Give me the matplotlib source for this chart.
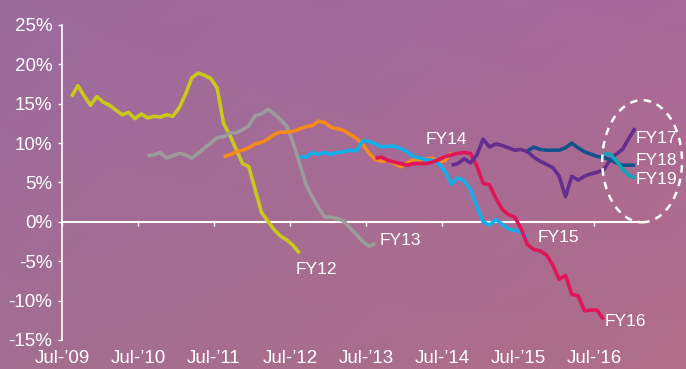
import numpy as np
import matplotlib
matplotlib.use("Agg")
import matplotlib.pyplot as plt
from matplotlib.patches import Ellipse

plt.rcParams['font.family'] = ['DejaVu Sans Condensed', 'Liberation Sans', 'DejaVu Sans']
plt.rcParams['font.stretch'] = 'condensed'

# monthly forecast growth (%) for each fiscal year, mid-month points
fy12 = [15.9, 17.3, 16.0, 14.8, 15.9, 15.2, 14.8, 14.2, 13.6, 13.9, 13.1, 13.7, 13.2,
        13.4, 13.3, 13.6, 13.4, 14.5, 16.2, 18.3, 18.9, 18.6, 18.2, 17.0, 12.5, 11.0,
        9.2, 7.4, 7.0, 4.1, 1.2, 0.1, -1.0, -1.8, -2.3, -3.0, -4.0]
fy13 = [8.4, 8.5, 8.8, 8.1, 8.4, 8.7, 8.5, 8.1, 8.7, 9.4, 10.0, 10.7, 10.8, 11.3,
        11.3, 11.7, 12.2, 13.5, 13.7, 14.3, 13.7, 13.0, 12.1, 10.0, 7.5, 4.8, 3.2,
        1.8, 0.6, 0.6, 0.4, 0.1, -0.8, -1.6, -2.5, -3.1, -2.7]
fy14 = [8.3, 8.5, 8.9, 9.1, 9.4, 9.9, 10.1, 10.5, 11.1, 11.4, 11.4, 11.5, 11.8,
        12.1, 12.2, 12.8, 12.6, 12.0, 11.8, 11.6, 11.1, 10.6, 9.8, 8.7, 7.9, 7.7,
        7.8, 7.4, 7.0, 7.5, 7.9, 7.9, 8.0, 8.1, 7.6, 7.8, 8.8]
fy15 = [8.3, 8.2, 8.8, 8.6, 8.8, 8.6, 8.8, 8.9, 9.1, 9.0, 10.3, 10.2, 9.9, 9.5,
        9.6, 9.6, 9.3, 8.9, 8.3, 8.1, 7.9, 7.8, 7.4, 6.4, 4.8, 5.6, 5.2, 4.1, 1.9,
        0.0, -0.4, 0.3, -0.3, -0.9, -1.1, -1.3, -2.0]
fy16 = [8.1, 8.2, 7.8, 7.6, 7.4, 7.2, 7.4, 7.4, 7.4, 7.6, 7.9, 8.3, 8.5, 8.7,
        8.8, 8.7, 7.1, 4.9, 4.7, 3.0, 1.6, 0.9, 0.6, -0.9, -2.9, -3.5, -3.7, -4.2,
        -5.5, -7.3, -6.8, -9.2, -9.4, -11.3, -11.2, -11.2, -12.4]
fy17 = [7.2, 7.4, 8.0, 7.5, 8.5, 10.5, 9.5, 9.9, 9.7, 9.4, 9.1, 9.2, 8.9, 8.2,
        7.7, 7.3, 6.9, 5.8, 3.2, 5.8, 5.3, 5.8, 6.1, 6.3, 6.6, 7.8, 8.6, 9.2, 10.6,
        11.9]
fy18 = [9.0, 9.5, 9.2, 9.1, 9.1, 9.1, 9.4, 10.0, 9.4, 8.9, 8.6, 8.3, 8.2, 7.9,
        7.5, 7.2, 7.2, 7.2]
fy19 = [8.6, 8.6, 7.8, 6.7, 5.9, 5.6]

# first month of each series, counted from Jul 2009 (Aug = 1)
series = [
    ("FY12", fy12, 1, "#c9c81b", (17, -16)),
    ("FY13", fy13, 13, "#9c9c9c", (25, 3)),
    ("FY14", fy14, 25, "#f58a1f", (-5, 13)),
    ("FY15", fy15, 37, "#12aeea", (31, 0)),
    ("FY16", fy16, 49, "#e0155a", (22, -2)),
    ("FY17", fy17, 61, "#662d8f", (21, -10)),
    ("FY18", fy18, 73, "#12508e", (21, 5)),
    ("FY19", fy19, 85, "#12a5b6", (21, -2)),
]

x_tick_labels = ["Jul-’09", "Jul-’10", "Jul-’11", "Jul-’12",
                 "Jul-’13", "Jul-’14", "Jul-’15", "Jul-’16"]
y_ticks = [-15, -10, -5, 0, 5, 10, 15, 20, 25]
y_tick_labels = ["-15%", "-10%", "-5%", "0%", "5%", "10%", "15%", "20%", "25%"]

fig = plt.figure(figsize=(6.86, 3.69), dpi=100)

# sunset-ish backdrop: blend of four corner colours
bg = fig.add_axes([0, 0, 1, 1], zorder=0)
tl = np.array([0.61, 0.42, 0.62])
tr = np.array([0.66, 0.41, 0.60])
bl = np.array([0.64, 0.43, 0.57])
br = np.array([0.69, 0.43, 0.53])
u = np.linspace(0, 1, 200)[None, :, None]
v = np.linspace(0, 1, 120)[:, None, None]
grad = (1 - v) * ((1 - u) * tl + u * tr) + v * ((1 - u) * bl + u * br)
bg.imshow(grad, aspect='auto', extent=[0, 1, 0, 1])
bg.axis('off')

ax = fig.add_axes([0.0904, 0.0786, 0.8401, 0.8537], zorder=1)
ax.patch.set_alpha(0)

for name, vals, start, color, off in series:
    months = start + 0.5 + np.arange(len(vals))
    ax.plot(months, vals, color=color, linewidth=2.6, solid_capstyle='butt',
            clip_on=False, zorder=3)
    ax.annotate(name, xy=(months[-1], vals[-1]), xytext=off,
                textcoords='offset pixels', ha='center', va='center',
                color='white', fontsize=12.5, annotation_clip=False)

# dashed ring around the latest forecasts
ring = Ellipse((91.6, 7.7), 12.6, 15.5, fill=False, edgecolor='white',
               linestyle=(0, (3, 2.5)), linewidth=1.8, clip_on=False, zorder=4)
ax.add_patch(ring)

ax.set_xlim(0, 91)
ax.set_ylim(-15, 25)
ax.set_xticks(np.arange(len(x_tick_labels)) * 12)
ax.set_xticklabels(x_tick_labels)
ax.set_yticks(y_ticks)
ax.set_yticklabels(y_tick_labels)

for side in ['top', 'right']:
    ax.spines[side].set_visible(False)
ax.spines['left'].set_color('white')
ax.spines['left'].set_linewidth(1.2)
ax.spines['bottom'].set_position(('data', 0))
ax.spines['bottom'].set_color('white')
ax.spines['bottom'].set_linewidth(1.5)

ax.tick_params(axis='y', colors='white', labelsize=13.5, length=3, width=1, pad=4)
ax.tick_params(axis='x', colors='white', labelsize=13.5, length=3, width=1, pad=89)

fig.savefig("out.png", dpi=100)
